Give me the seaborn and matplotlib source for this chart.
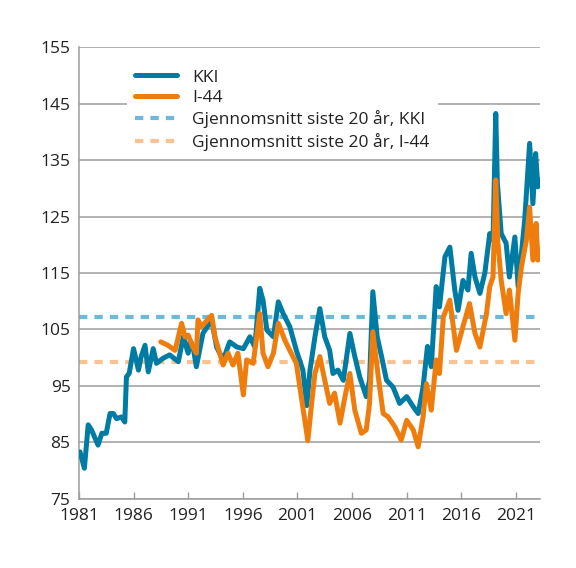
import matplotlib
matplotlib.use("Agg")
import matplotlib.pyplot as plt
import seaborn as sns
import pandas as pd

# ---- data ----
kki_year = [1981.1, 1981.5, 1981.85, 1982.15, 1982.75, 1983.1, 1983.5, 1983.85, 1984.15, 1984.45,
            1984.9, 1985.2, 1985.35, 1985.6, 1986.0, 1986.45, 1986.7, 1987.05, 1987.35, 1987.8,
            1988.1, 1988.7, 1989.3, 1990.1, 1990.55, 1991.0, 1991.2, 1991.45, 1991.75, 1992.35,
            1993.15, 1993.6, 1994.2, 1994.8, 1995.45, 1996.05, 1996.65, 1997.1, 1997.55, 1997.85,
            1998.2, 1998.8, 1999.25, 1999.7, 2000.3, 2000.9, 2001.5, 2001.85, 2002.15, 2002.6,
            2003.05, 2003.5, 2003.95, 2004.25, 2004.7, 2005.2, 2005.8, 2006.25, 2006.7, 2007.3,
            2007.6, 2007.9, 2008.3, 2008.7, 2009.15, 2009.75, 2010.35, 2011.0, 2011.6, 2012.05,
            2012.5, 2012.9, 2013.25, 2013.7, 2014.0, 2014.5, 2014.95, 2015.4, 2015.7, 2016.15,
            2016.6, 2016.9, 2017.25, 2017.7, 2018.15, 2018.6, 2018.9, 2019.15, 2019.3, 2019.65,
            2020.1, 2020.4, 2020.9, 2021.2, 2021.5, 2021.8, 2022.25, 2022.55, 2022.8, 2023.0, 2023.1]
kki_value = [83.3, 80.4, 88.1, 87.2, 84.5, 86.6, 86.6, 90.1, 90.1, 89.2,
             89.5, 88.6, 96.6, 97.2, 101.6, 97.8, 100.2, 102.2, 97.5, 101.6,
             99.0, 99.9, 100.5, 99.3, 103.7, 100.8, 103.0, 101.9, 98.4, 104.3,
             106.7, 101.9, 99.6, 102.8, 101.9, 101.6, 103.7, 101.9, 112.3, 110.2,
             104.9, 103.7, 109.9, 107.8, 105.5, 101.3, 97.8, 91.5, 97.8, 103.7,
             108.7, 103.7, 101.3, 97.2, 97.8, 96.0, 104.3, 100.2, 96.6, 93.1,
             96.0, 111.7, 103.7, 100.2, 96.0, 94.8, 91.9, 93.1, 91.3, 90.1,
             94.8, 102.0, 98.4, 112.6, 109.0, 117.9, 119.6, 112.0, 108.4, 113.7,
             112.0, 118.5, 114.3, 111.4, 115.0, 122.0, 120.8, 143.3, 130.9, 122.0,
             120.3, 114.3, 121.4, 112.6, 118.5, 124.4, 138.0, 127.3, 136.2, 130.3, 131.5]

i44_year = [1988.5, 1989.15, 1989.8, 1990.4, 1990.7, 1991.0, 1991.4, 1991.75, 1991.9, 1992.2,
            1993.15, 1993.45, 1994.2, 1994.65, 1995.1, 1995.55, 1996.05, 1996.35, 1996.95, 1997.55,
            1997.85, 1998.3, 1998.8, 1999.25, 1999.85, 2000.3, 2000.9, 2001.35, 2001.95, 2002.3,
            2002.6, 2003.05, 2003.5, 2003.95, 2004.4, 2004.9, 2005.35, 2005.8, 2006.25, 2006.85,
            2007.3, 2007.6, 2007.9, 2008.4, 2008.85, 2009.3, 2009.9, 2010.5, 2011.0, 2011.6,
            2012.05, 2012.5, 2012.8, 2013.25, 2013.7, 2014.0, 2014.35, 2014.95, 2015.55, 2016.15,
            2016.75, 2017.25, 2017.7, 2018.3, 2018.6, 2018.9, 2019.15, 2019.35, 2019.65, 2020.1,
            2020.4, 2020.9, 2021.2, 2021.5, 2021.95, 2022.25, 2022.55, 2022.85, 2023.0, 2023.1]
i44_value = [102.8, 102.2, 101.3, 106.1, 103.7, 104.0, 102.0, 100.8, 106.7, 105.5,
             107.5, 103.7, 98.7, 100.8, 98.7, 100.8, 93.4, 99.6, 99.0, 107.8,
             100.8, 98.4, 100.8, 106.1, 103.1, 101.3, 99.0, 93.1, 85.3, 91.9,
             97.2, 100.2, 96.0, 91.9, 93.7, 88.4, 93.1, 97.2, 90.7, 86.6,
             87.2, 91.9, 104.6, 96.6, 90.1, 89.5, 87.8, 85.4, 88.9, 87.2,
             84.2, 89.5, 95.4, 90.7, 99.6, 97.2, 107.2, 110.2, 101.3, 105.5,
             109.6, 104.3, 101.9, 107.8, 112.6, 114.3, 131.5, 120.3, 113.7, 107.8,
             112.0, 103.1, 111.4, 116.1, 120.8, 126.7, 117.3, 123.8, 117.3, 119.1]

kki_avg = 107.2
i44_avg = 99.3

series_labels = ["KKI", "I-44", "Gjennomsnitt siste 20 år, KKI", "Gjennomsnitt siste 20 år, I-44"]
x_ticks = [1981, 1986, 1991, 1996, 2001, 2006, 2011, 2016, 2021]
y_ticks = [75, 85, 95, 105, 115, 125, 135, 145, 155]

# ---- style ----
sns.set_theme(style="white")
plt.rcParams["font.family"] = ["Open Sans", "DejaVu Sans"]

C_KKI = "#007BA4"
C_I44 = "#EF7D0E"
C_KKI_AVG = "#6DB8DB"
C_I44_AVG = "#F8C291"
GRID = "#9C9C9C"

fig = plt.figure(figsize=(5.76, 5.68), dpi=100)
ax = fig.add_axes([0.137, 0.122, 0.8005, 0.7944])

df_kki = pd.DataFrame({"år": kki_year, "verdi": kki_value})
df_i44 = pd.DataFrame({"år": i44_year, "verdi": i44_value})

ax.axhline(kki_avg, color=C_KKI_AVG, lw=3, ls=(0, (2.0, 1.7)), label=series_labels[2], zorder=2)
ax.axhline(i44_avg, color=C_I44_AVG, lw=3, ls=(0, (2.0, 1.7)), label=series_labels[3], zorder=2)
sns.lineplot(data=df_kki, x="år", y="verdi", ax=ax, color=C_KKI, lw=3.6, label=series_labels[0], zorder=4)
sns.lineplot(data=df_i44, x="år", y="verdi", ax=ax, color=C_I44, lw=3.6, label=series_labels[1], zorder=5)

ax.set_xlim(1981, 2023.2)
ax.set_ylim(75, 155)
ax.set_xticks(x_ticks)
ax.set_yticks(y_ticks)
ax.set_xlabel("")
ax.set_ylabel("")
ax.yaxis.grid(True, color=GRID, lw=1.1)
ax.set_axisbelow(True)
for s in ["top", "right"]:
    ax.spines[s].set_visible(False)
for s in ["left", "bottom"]:
    ax.spines[s].set_color(GRID)
    ax.spines[s].set_linewidth(1.1)
ax.tick_params(axis="x", direction="in", length=5, width=1, color=GRID, labelsize=12.5,
               labelcolor="#222222", pad=7, bottom=True)
ax.tick_params(axis="y", length=0, labelsize=12.5, labelcolor="#222222", pad=6)

handles, labels = ax.get_legend_handles_labels()
order = [labels.index(l) for l in series_labels]
leg = ax.legend([handles[i] for i in order], [labels[i] for i in order],
                loc="upper left", bbox_to_anchor=(0.085, 0.99), frameon=True,
                fancybox=False, framealpha=1, facecolor="white", edgecolor="none",
                fontsize=12.5, handlelength=2.4, handletextpad=0.85, labelspacing=0.25,
                borderpad=0.5)
for t in leg.get_texts():
    t.set_color("#222222")

fig.savefig("out.png", dpi=100)
